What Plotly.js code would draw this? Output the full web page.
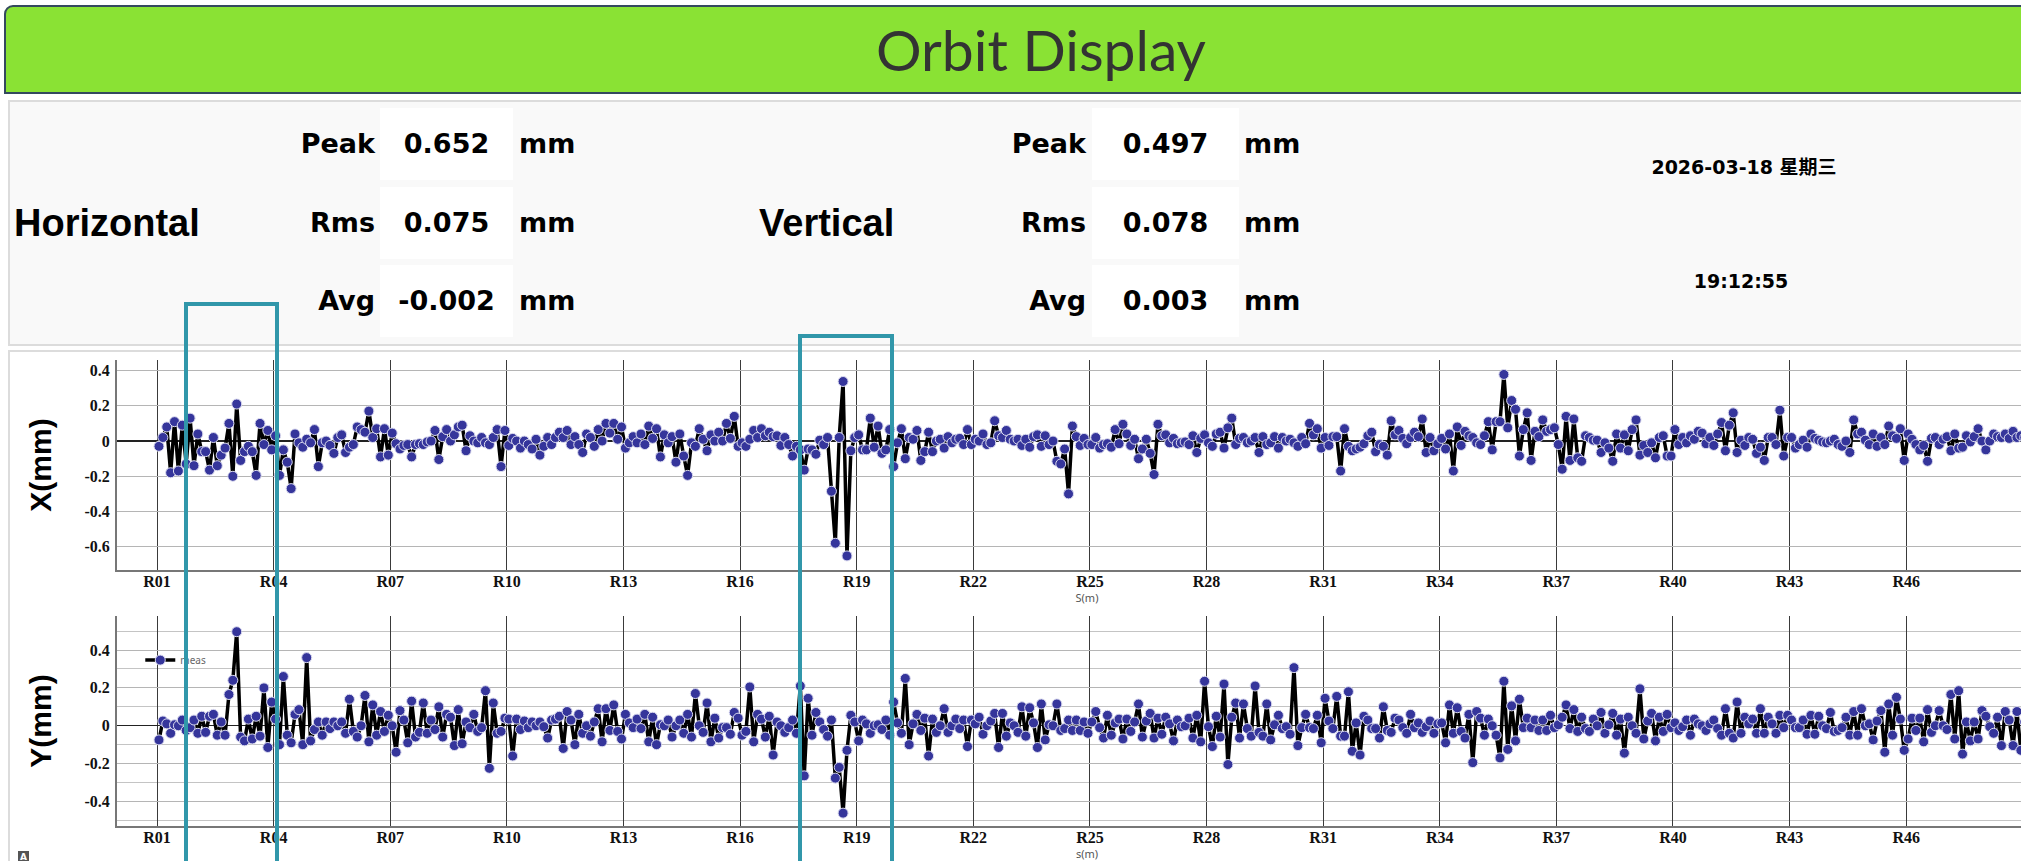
<!DOCTYPE html>
<html>
<head>
<meta charset="utf-8">
<script src="https://cdn.plot.ly/plotly-3.0.1.min.js"></script>
<style>
html,body{margin:0;padding:0;overflow:hidden;background:#fff;width:2021px;height:861px;}
#page{position:relative;width:2090px;height:900px;}
#header{position:absolute;left:4px;top:5px;width:2070px;height:85px;background:#8ae234;border:2px solid #34495e;border-top-left-radius:9px;box-sizing:content-box;}
#title{position:absolute;left:0;top:0;width:100%;height:85px;line-height:85px;text-align:center;font-family:Lato,"Open Sans",sans-serif;font-size:57px;color:#333;}
#stats{position:absolute;left:8px;top:100px;width:2080px;height:242px;background:#f9f9f9;border:2px solid #dcdcdc;}
#plots{position:absolute;left:8px;top:350px;width:2080px;height:560px;background:#fff;border:2px solid #dcdcdc;}
.abs{position:absolute;white-space:nowrap;}
.lab{font-family:"DejaVu Sans",sans-serif;font-weight:bold;font-size:27px;color:#000;}
.big{font-family:"Liberation Sans",Arial,sans-serif;font-weight:bold;font-size:38px;color:#000;}
.box{background:#fff;}
.dt{font-family:"DejaVu Sans","Noto Sans CJK SC",sans-serif;font-weight:bold;font-size:19px;color:#000;text-align:center;}
.hl{position:absolute;border:4px solid #3197aa;z-index:20;pointer-events:none;box-sizing:border-box;}
#chartX,#chartY{position:absolute;left:0;width:2070px;}
#chartX{top:350px;height:260px;}
#chartY{top:606px;height:265px;}
#icon{position:absolute;left:18px;top:851px;width:11px;height:12px;background:#555;color:#fff;font:bold 9px "DejaVu Sans";text-align:center;line-height:12px;}
</style>
</head>
<body>
<div id="page">
  <div id="header"><div id="title">Orbit Display</div></div>
  <div id="stats"></div>
  <div id="plots"></div>
  <div id="chartX"></div>
  <div id="chartY"></div>
  <div id="icon">A</div>
  <div class="hl" style="left:184px;top:302px;width:95px;height:620px;"></div>
  <div class="hl" style="left:798px;top:334px;width:96px;height:620px;"></div>
</div>
<script>
// ---------------- summary values ----------------
const statLabels = ['Peak', 'Rms', 'Avg'];
const horizontalStats = ['0.652', '0.075', '-0.002'];
const verticalStats = ['0.497', '0.078', '0.003'];
const statUnit = 'mm';
const dateText = '2026-03-18 星期三';
const timeText = '19:12:55';

// ---------------- axis ticks ----------------
const cellTicks = [1, 4, 7, 10, 13, 16, 19, 22, 25, 28, 31, 34, 37, 40, 43, 46];
const cellLabels = ['R01','R04','R07','R10','R13','R16','R19','R22','R25','R28','R31','R34','R37','R40','R43','R46'];
const xPlaneTickVals = [0.4, 0.2, 0, -0.2, -0.4, -0.6];
const xPlaneTickText = ['0.4', '0.2', '0', '-0.2', '-0.4', '-0.6'];
const yPlaneTickVals = [0.4, 0.2, 0, -0.2, -0.4];
const yPlaneTickText = ['0.4', '0.2', '0', '-0.2', '-0.4'];
const yPlaneMinorVals = [0.5, 0.3, 0.1, -0.1, -0.3, -0.5];

// ---------------- BPM lattice: cells and BPM offsets inside a cell ----------------
const cellNumbers = [1,2,3,4,5,6,7,8,9,10,11,12,13,14,15,16,17,18,19,20,21,22,23,24,25,26,27,28,29,30,31,32,33,34,35,36,37,38,39,40,41,42,43,44,45,46,47,48,49];
const bpmOffsets = [0.05, 0.15, 0.25, 0.35, 0.45, 0.55, 0.65, 0.75, 0.85, 0.95];
const bpmsInLastCell = 3;

// ---------------- horizontal orbit X (mm), 10 BPMs per cell ----------------
const xOrbitR01toR12 = [
 -0.03, 0.02, 0.08, -0.18, 0.11, -0.17, 0.09, -0.13, 0.13, -0.14,
 0.04, -0.06, -0.06, -0.165, 0.02, -0.14, -0.08, -0.04, 0.1, -0.2,
 0.21, -0.11, -0.06, -0.03, -0.06, -0.195, 0.1, -0.02, 0.06, -0.05,
 0.03, -0.195, -0.05, -0.12, -0.27, 0.04, -0.01, -0.035, 0.01, -0.01,
 0.065, -0.145, -0.01, 0.0, -0.025, -0.07, 0.02, 0.035, -0.065, -0.035,
 -0.02, 0.08, 0.065, 0.05, 0.17, 0.02, 0.07, -0.09, 0.07, -0.08,
 0.045, -0.015, -0.045, -0.025, -0.02, -0.09, -0.02, -0.015, -0.02, -0.005,
 0.0, 0.06, -0.105, 0.025, 0.065, 0.0, 0.035, 0.08, 0.09, -0.055,
 0.03, 0.0, -0.01, 0.02, -0.01, -0.02, 0.02, 0.065, -0.145, 0.06,
 -0.025, 0.015, 0.0, -0.04, 0.0, -0.02, -0.045, 0.01, -0.08, -0.03,
 0.02, -0.02, 0.02, 0.05, 0.02, 0.06, -0.02, 0.025, -0.02, -0.065,
 0.04, 0.02, -0.03, 0.065, 0.0, 0.1, 0.045, 0.1, 0.01, 0.08
];
const xOrbitR13toR24 = [
 -0.04, -0.01, 0.025, -0.01, 0.04, -0.02, 0.085, 0.015, 0.07, -0.09,
 0.035, -0.01, 0.025, -0.12, 0.04, -0.085, -0.195, -0.01, -0.03, 0.07,
 0.01, -0.055, 0.035, 0.0, 0.05, 0.0, 0.1, 0.015, 0.14, -0.03,
 -0.01, -0.03, 0.01, 0.06, 0.02, 0.07, 0.03, 0.05, 0.025, 0.03,
 -0.025, 0.02, -0.02, -0.085, -0.03, -0.05, -0.165, -0.045, -0.05, -0.075,
 0.005, -0.02, 0.02, -0.285, -0.58, 0.02, 0.338, -0.652, -0.055, 0.02,
 0.035, -0.05, -0.05, 0.13, -0.035, 0.085, -0.07, -0.05, 0.065, -0.145,
 -0.01, 0.07, -0.1, 0.02, 0.01, 0.06, -0.11, -0.06, 0.05, -0.06,
 0.0, 0.01, -0.04, 0.025, -0.01, 0.01, 0.015, -0.02, 0.065, -0.02,
 0.01, 0.0, 0.04, -0.02, -0.01, 0.115, 0.03, 0.02, 0.06, 0.01,
 0.0, 0.01, -0.025, 0.01, -0.035, 0.025, 0.035, -0.03, 0.03, -0.02,
 0.0, -0.115, -0.13, -0.045, -0.3, 0.085, 0.025, -0.025, 0.015, -0.02
];
const xOrbitR25toR36 = [
 -0.02, 0.02, -0.04, -0.02, -0.015, -0.035, 0.065, -0.015, 0.095, 0.04,
 -0.025, 0.01, -0.1, -0.045, 0.01, -0.07, -0.19, 0.095, 0.03, 0.035,
 -0.01, 0.015, -0.015, -0.01, -0.005, -0.02, 0.03, -0.065, 0.015, 0.035,
 -0.01, -0.03, 0.04, 0.05, -0.04, 0.075, 0.13, -0.02, 0.015, 0.02,
 -0.01, 0.0, 0.02, -0.065, 0.025, -0.02, -0.01, 0.025, -0.04, 0.02,
 0.0, 0.01, -0.01, -0.03, 0.02, -0.015, 0.1, 0.035, 0.07, -0.04,
 0.02, -0.025, 0.025, 0.025, -0.17, 0.07, -0.03, -0.055, -0.045, -0.035,
 -0.015, 0.03, 0.05, -0.06, -0.02, -0.03, -0.08, 0.115, 0.035, 0.06,
 0.015, -0.015, 0.02, 0.05, 0.025, 0.125, -0.065, 0.02, -0.055, -0.015,
 0.015, -0.045, 0.04, -0.17, 0.08, -0.025, 0.055, 0.03, 0.02, -0.01,
 -0.02, 0.03, 0.11, -0.05, 0.11, 0.11, 0.378, 0.075, 0.23, 0.18,
 -0.085, 0.065, 0.16, -0.11, 0.055, 0.025, 0.12, 0.055, 0.065, 0.075
];
const xOrbitR37toR49 = [
 -0.02, -0.16, 0.14, -0.11, 0.125, -0.095, -0.115, 0.03, 0.02, 0.005,
 0.005, -0.065, -0.01, -0.04, -0.115, 0.04, -0.04, 0.035, -0.055, 0.065,
 0.12, -0.08, -0.025, -0.065, -0.01, -0.095, 0.02, 0.03, -0.085, -0.085,
 0.065, -0.02, 0.02, -0.01, 0.03, 0.01, 0.055, 0.045, -0.015, 0.02,
 -0.025, 0.04, 0.105, -0.055, 0.09, 0.16, -0.065, 0.005, -0.025, 0.02,
 0.01, -0.07, -0.035, -0.11, 0.02, 0.02, -0.02, 0.175, -0.085, 0.02,
 0.02, -0.04, -0.02, 0.005, -0.035, 0.04, 0.015, 0.005, -0.005, -0.01,
 0.0, 0.01, -0.02, -0.03, 0.0, -0.065, 0.12, 0.04, 0.05, 0.005,
 -0.02, 0.04, -0.03, 0.02, -0.02, 0.085, 0.03, 0.015, 0.07, -0.11,
 0.04, 0.01, -0.02, -0.05, -0.025, -0.115, 0.015, 0.02, -0.02, 0.01,
 0.025, -0.055, 0.04, -0.04, -0.035, 0.03, -0.005, 0.025, 0.07, 0.0,
 -0.05, 0.0, 0.04, 0.025, 0.02, 0.04, 0.015, 0.055, 0.02, 0.03,
 0.02, 0.01, 0.03
];

// ---------------- vertical orbit Y (mm), 10 BPMs per cell ----------------
const yOrbitR01toR12 = [
 -0.075, 0.025, 0.01, -0.04, 0.005, 0.0, 0.03, -0.025, -0.01, 0.03,
 -0.04, 0.05, -0.035, 0.05, 0.06, -0.05, 0.02, -0.05, 0.165, 0.24,
 0.497, -0.06, -0.08, 0.035, -0.07, 0.05, -0.055, 0.2, -0.115, 0.125,
 0.035, -0.1, 0.26, -0.05, -0.09, 0.06, 0.085, -0.1, 0.36, -0.08,
 -0.02, 0.02, -0.05, 0.02, -0.015, 0.02, 0.0, 0.02, -0.04, 0.14,
 -0.03, -0.06, 0.0, 0.16, -0.085, 0.11, -0.05, 0.075, -0.03, 0.055,
 0.0, -0.14, 0.08, 0.03, -0.09, 0.13, -0.06, -0.035, 0.12, -0.04,
 0.03, -0.02, 0.1, -0.06, 0.06, 0.045, -0.105, 0.085, -0.095, 0.02,
 -0.01, 0.06, -0.03, -0.01, 0.185, -0.225, 0.12, -0.04, -0.03, 0.04,
 0.035, -0.16, 0.035, -0.02, 0.025, -0.01, 0.02, 0.0, 0.02, -0.005,
 -0.065, 0.03, 0.035, 0.05, -0.12, 0.075, 0.03, -0.1, 0.06, -0.04,
 0.0, -0.055, 0.02, 0.09, -0.085, 0.09, -0.025, 0.11, -0.03, -0.07
];
const yOrbitR13toR24 = [
 0.06, 0.015, -0.01, 0.035, -0.015, 0.06, -0.085, 0.045, -0.1, 0.005,
 0.0, 0.03, -0.06, 0.0, 0.03, -0.04, 0.06, -0.06, 0.17, 0.0,
 -0.035, 0.12, -0.085, 0.04, -0.065, -0.01, -0.01, -0.045, 0.07, 0.04,
 -0.05, -0.03, 0.205, -0.085, 0.06, 0.035, -0.06, 0.05, -0.155, 0.02,
 0.0, -0.035, -0.01, 0.03, -0.04, 0.21, -0.265, 0.145, -0.05, 0.07,
 0.02, -0.02, -0.055, 0.03, -0.277, -0.22, -0.462, -0.13, 0.055, 0.02,
 -0.08, 0.03, 0.01, -0.04, 0.0, 0.005, -0.02, 0.03, -0.05, 0.125,
 0.015, -0.04, 0.25, -0.1, 0.01, 0.06, -0.025, 0.04, -0.16, 0.035,
 -0.035, 0.0, 0.09, -0.035, 0.0, 0.035, -0.015, 0.03, -0.11, 0.03,
 0.01, 0.045, -0.045, 0.0, 0.025, 0.065, -0.115, 0.065, -0.055, 0.015,
 0.0, -0.035, 0.1, -0.055, 0.095, 0.015, -0.115, 0.115, -0.075, 0.005,
 0.0, 0.115, -0.025, -0.015, 0.03, -0.025, 0.03, -0.025, 0.02, -0.04
];
const yOrbitR25toR36 = [
 0.02, 0.075, -0.01, -0.065, 0.055, -0.05, 0.015, 0.035, -0.07, 0.035,
 -0.03, 0.02, 0.115, -0.06, 0.025, 0.065, -0.065, 0.04, -0.045, 0.045,
 0.01, -0.08, 0.03, -0.005, 0.0, 0.04, -0.065, 0.055, -0.085, 0.235,
 -0.005, -0.11, 0.05, -0.06, 0.22, -0.205, 0.045, 0.12, -0.065, 0.115,
 -0.015, -0.055, 0.21, -0.035, -0.055, 0.115, -0.075, 0.005, 0.055, -0.015,
 -0.005, -0.045, 0.307, -0.105, -0.01, 0.06, -0.01, -0.015, 0.055, -0.09,
 0.145, 0.025, -0.015, 0.155, -0.055, -0.055, 0.18, -0.135, 0.015, -0.155,
 0.05, 0.03, -0.015, -0.015, -0.065, 0.1, -0.025, -0.035, 0.04, 0.03,
 -0.01, -0.04, 0.06, -0.01, 0.015, -0.035, -0.005, 0.025, -0.04, 0.01,
 0.015, -0.09, 0.11, -0.04, 0.095, -0.03, -0.065, 0.06, -0.195, 0.075,
 0.04, -0.05, 0.035, 0.0, -0.05, -0.17, 0.235, -0.125, 0.105, -0.08,
 0.14, -0.01, 0.04, -0.01, 0.03, -0.025, 0.03, -0.025, 0.055, -0.01
];
const yOrbitR37toR49 = [
 0.005, 0.045, 0.11, -0.015, 0.085, -0.03, 0.045, -0.015, -0.03, 0.035,
 0.0, 0.07, -0.04, 0.005, 0.065, -0.05, 0.035, -0.145, 0.045, 0.0,
 -0.04, 0.195, -0.07, 0.025, 0.065, -0.08, 0.045, -0.03, 0.06, -0.01,
 0.015, -0.025, -0.005, 0.03, -0.05, 0.035, 0.01, 0.0, -0.025, 0.01,
 0.03, -0.015, -0.05, 0.09, -0.04, -0.065, 0.125, -0.04, 0.045, 0.01,
 0.035, -0.04, 0.09, -0.04, 0.045, 0.01, -0.04, 0.055, -0.01, 0.055,
 0.03, -0.01, -0.01, 0.03, -0.045, 0.055, -0.045, 0.05, 0.0, -0.015,
 0.07, -0.03, -0.025, -0.01, 0.045, -0.05, 0.075, -0.05, 0.09, 0.0,
 0.01, -0.075, 0.025, 0.08, -0.14, 0.115, -0.05, 0.15, 0.035, -0.13,
 -0.07, 0.04, -0.025, 0.04, -0.085, 0.085, -0.035, 0.0, 0.08, 0.0,
 -0.02, 0.165, -0.07, 0.185, -0.15, 0.02, -0.08, 0.02, -0.07, 0.08,
 0.05, -0.005, -0.04, 0.045, -0.105, 0.075, 0.03, -0.105, 0.075, -0.13,
 0.02, -0.01, 0.01
];

// ---------------- build DOM for summary panel ----------------
function addText(parent, cls, text, left, top, width, height, align) {
  const d = document.createElement('div');
  d.className = 'abs ' + cls;
  d.textContent = text;
  d.style.left = left + 'px'; d.style.top = top + 'px';
  d.style.width = width + 'px'; d.style.height = height + 'px';
  d.style.lineHeight = height + 'px';
  d.style.textAlign = align;
  parent.appendChild(d);
  return d;
}
const page = document.getElementById('page');
const rowTops = [108, 187, 265];
const rowH = 72;
const groups = [
  {name: 'Horizontal', nameLeft: 14, labRight: 375, boxLeft: 380, boxW: 133, unitLeft: 519, vals: horizontalStats},
  {name: 'Vertical', nameLeft: 759, labRight: 1086, boxLeft: 1092, boxW: 147, unitLeft: 1244, vals: verticalStats}
];
groups.forEach(g => {
  addText(page, 'big', g.name, g.nameLeft, 223 - 30, 300, 60, 'left');
  statLabels.forEach((lab, i) => {
    const t = rowTops[i];
    addText(page, 'lab', lab, g.labRight - 150, t, 150, rowH, 'right');
    addText(page, 'box', '', g.boxLeft, t, g.boxW, rowH, 'center');
    addText(page, 'lab', g.vals[i], g.boxLeft, t, g.boxW, rowH, 'center');
    addText(page, 'lab', statUnit, g.unitLeft, t, 80, rowH, 'left');
  });
});
addText(page, 'dt', dateText, 1744 - 150, 167 - 15, 300, 30, 'center');
addText(page, 'dt', timeText, 1741 - 100, 281 - 15, 200, 30, 'center');

// ---------------- BPM positions from lattice ----------------
const sPos = [];
cellNumbers.forEach((c, ci) => {
  const n = (ci === cellNumbers.length - 1) ? bpmsInLastCell : bpmOffsets.length;
  for (let k = 0; k < n; k++) sPos.push(c + bpmOffsets[k]);
});
const xOrbit = xOrbitR01toR12.concat(xOrbitR13toR24, xOrbitR25toR36, xOrbitR37toR49);
const yOrbit = yOrbitR01toR12.concat(yOrbitR13toR24, yOrbitR25toR36, yOrbitR37toR49);

// ---------------- Plotly charts ----------------
const tickFont = {family: 'Liberation Serif, serif', size: 16, color: '#111', weight: 'bold'};
function xAxis(titleText) {
  return {
    range: [-0.03, 49.88], tickmode: 'array', tickvals: cellTicks, ticktext: cellLabels,
    showgrid: true, gridcolor: '#3a3a3a', gridwidth: 1, zeroline: false,
    showline: true, linecolor: '#777', linewidth: 2, ticks: '', ticklabelstandoff: -4,
    tickfont: tickFont, fixedrange: true,
    title: {text: titleText, font: {family: 'Noto Sans, sans-serif', size: 11, color: '#555'}, standoff: 2}
  };
}
function trace(yv, show) {
  return {
    x: sPos, y: yv, type: 'scatter', mode: 'lines+markers', name: 'meas', showlegend: show,
    line: {color: '#000', width: 3.5},
    marker: {color: '#35359b', size: 10, line: {color: '#dcdcf0', width: 1}}
  };
}
const yTitleFont = {family: 'Liberation Sans, Arial, sans-serif', size: 30, color: '#000', weight: 'bold'};
const cfg = {displayModeBar: false, staticPlot: true};

Plotly.newPlot('chartX', [trace(xOrbit, false)], {
  width: 2070, height: 260,
  margin: {l: 117, r: 13, t: 10, b: 40},
  paper_bgcolor: 'rgba(0,0,0,0)', plot_bgcolor: '#fff',
  showlegend: false,
  xaxis: xAxis('S(m)'),
  yaxis: {
    range: [-0.732, 0.46], tickmode: 'array', tickvals: xPlaneTickVals, ticktext: xPlaneTickText,
    showgrid: true, gridcolor: '#b5b5b5', gridwidth: 1,
    zeroline: true, zerolinecolor: '#222', zerolinewidth: 1.5,
    showline: true, linecolor: '#777', linewidth: 2, ticks: '', ticklabelstandoff: 2,
    tickfont: tickFont, fixedrange: true,
    title: {text: 'X(mm)', font: yTitleFont, standoff: 24}
  }
}, cfg);

Plotly.newPlot('chartY', [trace(yOrbit, true)], {
  width: 2070, height: 265,
  margin: {l: 117, r: 13, t: 10, b: 45},
  paper_bgcolor: 'rgba(0,0,0,0)', plot_bgcolor: '#fff',
  showlegend: true,
  legend: {x: 0.012, y: 0.79, xanchor: 'left', yanchor: 'middle', bgcolor: 'rgba(0,0,0,0)',
           font: {family: 'Noto Sans, sans-serif', size: 10, color: '#666'}, itemwidth: 30},
  xaxis: xAxis('s(m)'),
  yaxis: {
    range: [-0.53, 0.58], tickmode: 'array', tickvals: yPlaneTickVals, ticktext: yPlaneTickText,
    showgrid: true, gridcolor: '#b5b5b5', gridwidth: 1,
    minor: {tickmode: 'array', tickvals: yPlaneMinorVals, showgrid: true, gridcolor: '#c4c4c4', gridwidth: 1, ticks: ''},
    zeroline: true, zerolinecolor: '#222', zerolinewidth: 1.5,
    showline: true, linecolor: '#777', linewidth: 2, ticks: '', ticklabelstandoff: 2,
    tickfont: tickFont, fixedrange: true,
    title: {text: 'Y(mm)', font: yTitleFont, standoff: 24}
  }
}, cfg);
</script>
</body>
</html>
